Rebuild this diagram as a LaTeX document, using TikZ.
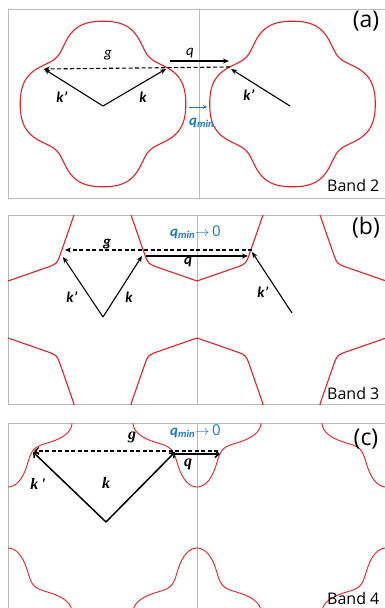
\documentclass[tikz,border=0pt]{standalone}
\usepackage{fontspec}
\setmainfont{Carlito}
\newfontfamily\osans{Open Sans}
\newfontfamily\tnr{Liberation Serif}
\usetikzlibrary{arrows.meta}
\definecolor{fsred}{RGB}{232,32,40}
\definecolor{framegray}{RGB}{185,185,185}
\definecolor{qblue}{RGB}{30,120,200}
\tikzset{
  frame/.style={draw=framegray, line width=0.8pt},
  fs/.style={draw=fsred, line width=1.1pt},
  fsthin/.style={draw=fsred, line width=0.9pt},
  vec/.style={line width=1.1pt, -{Stealth[length=6pt,width=5pt]}},
  gvec/.style={vec, dash pattern=on 4pt off 2.5pt},
  vecc/.style={line width=1.5pt, -{Straight Barb[length=4pt,width=7pt]}},
  gvecc/.style={vecc, line width=1.2pt, dash pattern=on 4pt off 2.5pt},
  qminvec/.style={draw=qblue, line width=1pt, -{Stealth[length=4pt,width=4pt]}},
  lbl/.style={inner sep=0pt, font=\fontsize{15}{15}\selectfont\bfseries\itshape},
  lbllight/.style={inner sep=0pt, font=\fontsize{15}{15}\selectfont\itshape},
  lblc/.style={inner sep=0pt, font=\tnr\fontsize{16}{16}\selectfont\bfseries\itshape},
  qminlbl/.style={inner sep=0pt, text=qblue, font=\fontsize{15}{15}\selectfont},
  panel/.style={inner sep=0pt, font=\osans\fontsize{23}{23}\selectfont},
  band/.style={inner sep=0pt, anchor=base west, font=\osans\fontsize{16}{16}\selectfont},
}
\newcommand\octshape[2]{%
  \begin{scope}[shift={(#1,#2)}]
  \draw[fs] (66,0) -- (52.8,38) .. controls (49,49) .. (38,52.8) -- (0,66)
    -- (-38,52.8) .. controls (-49,49) .. (-52.8,38) -- (-66,0)
    -- (-52.8,-38) .. controls (-49,-49) .. (-38,-52.8) -- (0,-66)
    -- (38,-52.8) .. controls (49,-49) .. (52.8,-38) -- cycle;
  \end{scope}}
\newcommand\lobeshape[2]{%
  \draw[fsthin] plot[domain=0:360,samples=241,smooth]
   ({#1+(49.25+13.5*cos(4*\x)+1.25*cos(8*\x))*cos(\x)},
    {#2+(49.25+13.5*cos(4*\x)+1.25*cos(8*\x))*sin(\x)});}
\begin{document}
\begin{tikzpicture}[x=1pt,y=-1pt]
\useasboundingbox (0,0) rectangle (385,608);
\fill[white] (0,0) rectangle (385,608);
% ---------------- panel (a)
\draw[frame] (8,9) rectangle (386,198);
\draw[frame] (199,9) -- (199,198);
\draw[fs] plot[domain=0:360,samples=241,smooth]
  ({103+(76.5+8.5*cos(4*\x)-2.2*cos(8*\x))*cos(\x)},
   {104+(76.5+8.5*cos(4*\x)-2.2*cos(8*\x))*sin(\x)});
\draw[fs] plot[domain=0:360,samples=241,smooth]
  ({292.5+(76.5+8.5*cos(4*\x)-2.2*cos(8*\x))*cos(\x)},
   {104+(76.5+8.5*cos(4*\x)-2.2*cos(8*\x))*sin(\x)});
\coordinate (Oa) at (103,106);
\coordinate (kpa) at (44,69);
\coordinate (ka) at (166,69);
\coordinate (gaR) at (230,67);
\coordinate (qaS) at (170,61);
\coordinate (qaE) at (229,61);
\coordinate (Oa2) at (290,106);
\coordinate (kpa2) at (231,69);
\coordinate (qmS) at (189,107);
\coordinate (qmE) at (207,107);
\draw[vec] (Oa) -- (kpa);
\draw[vec] (Oa) -- (ka);
\draw[gvec] (gaR) -- (kpa);
\draw[vec] (qaS) -- (qaE);
\draw[vec] (Oa2) -- (kpa2);
\draw[qminvec] (qmS) -- (qmE);
\node[lbllight] (ga) at (108,55) {g};
\node[lbllight] (qa) at (190,53) {q};
\node[lbl] (kpla) at (62,97) {k'};
\node[lbl] (kla) at (143,97) {k};
\node[lbl] (kpla2) at (249,95) {k'};
\node[lbl, text=qblue, anchor=west] (qminla) at (189,123) {q\textsubscript{min}};
\node[panel] (pa) at (366,21) {(a)};
\node[band] (ba) at (327,191) {Band 2};
% ---------------- panel (b)
\draw[frame] (8,215) rectangle (386,404);
\draw[frame] (197,215) -- (197,404);
\begin{scope}
\clip (8,215) rectangle (386,404);
\octshape{8}{215}
\octshape{197}{215}
\octshape{386}{215}
\octshape{8}{404}
\octshape{197}{404}
\octshape{386}{404}
\end{scope}
\coordinate (Ob) at (103,317);
\coordinate (kpb) at (63,257);
\coordinate (kb) at (142,256);
\coordinate (gbR) at (252,250);
\coordinate (gbL) at (65,250);
\coordinate (qbS) at (146,256);
\coordinate (qbE) at (248,256);
\coordinate (Ob2) at (292,313);
\coordinate (kpb2) at (252,252);
\draw[vec] (Ob) -- (kpb);
\draw[vec] (Ob) -- (kb);
\draw[gvec] (gbR) -- (gbL);
\draw[vec] (qbS) -- (qbE);
\draw[vec] (Ob2) -- (kpb2);
\node[lbl] (glb) at (107,244) {g};
\node[lbl] (qlb) at (188,262) {q};
\node[lbl] (kplb) at (72,297) {k'};
\node[lbl] (klb) at (129,297) {k};
\node[lbl] (kplb2) at (263,292) {k'};
\node[qminlbl, anchor=west] (qminlb) at (170,232) {{\bfseries\itshape q\textsubscript{min}}{\osans$\rightarrow$\,0}};
\node[panel] (pb) at (366,228) {(b)};
\node[band] (bb) at (327,399) {Band 3};
% ---------------- panel (c)
\draw[frame] (8,423) rectangle (386,612);
\draw[frame] (197,423) -- (197,612);
\begin{scope}
\clip (8,423) rectangle (386,612);
\lobeshape{8}{423}
\lobeshape{197}{423}
\lobeshape{386}{423}
\lobeshape{8}{612}
\lobeshape{197}{612}
\lobeshape{386}{612}
\end{scope}
\coordinate (Oc) at (106,522);
\coordinate (kpc) at (33,452);
\coordinate (kc) at (175,452);
\coordinate (gcR) at (218,451);
\coordinate (gcL) at (34,451);
\coordinate (qcS) at (175,454);
\coordinate (qcE) at (220,454);
\draw[vecc] (Oc) -- (kpc);
\draw[vecc] (Oc) -- (kc);
\draw[gvecc] (gcR) -- (gcL);
\draw[vecc] (qcS) -- (qcE);
\node[lblc] (glc) at (132,437) {g};
\node[lblc] (qlc) at (188,464) {q};
\node[lblc] (kplc) at (38,484) {k\,'};
\node[lblc] (klc) at (106,483) {k};
\node[qminlbl, anchor=west] (qminlc) at (170,431) {{\bfseries\itshape q\textsubscript{min}}{\osans$\rightarrow$\,0}};
\node[panel] (pc) at (366,439) {(c)};
\node[band] (bc) at (327,604) {Band 4};
\end{tikzpicture}
\end{document}
